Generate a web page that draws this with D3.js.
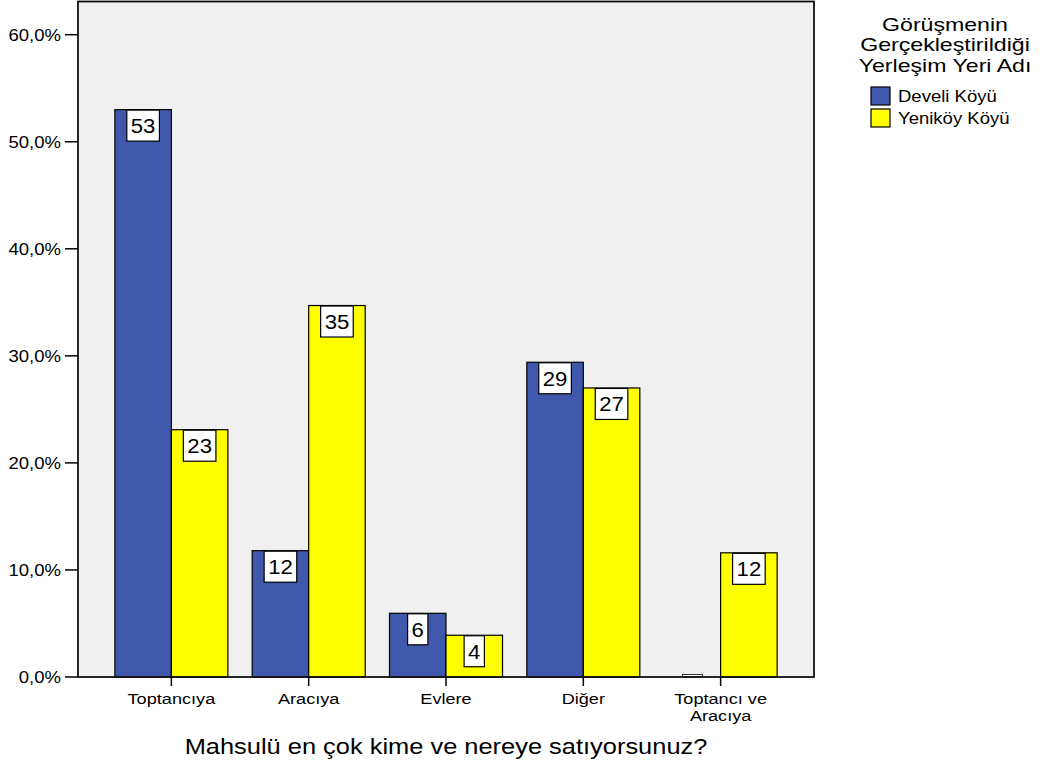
<!DOCTYPE html>
<html><head><meta charset="utf-8">
<script src="https://cdn.jsdelivr.net/npm/d3@7"></script>
<style>body{margin:0;background:#fff}svg{display:block}text{font-family:Arial,"Liberation Sans",sans-serif;fill:#000}</style>
</head><body><svg id="c" width="1042" height="767"></svg>
<script>
const categories = ["Toptancıya","Aracıya","Evlere","Diğer","Toptancı ve Aracıya"];
const categoryLines = [["Toptancıya"],["Aracıya"],["Evlere"],["Diğer"],["Toptancı ve","Aracıya"]];
const seriesNames = ["Develi Köyü","Yeniköy Köyü"];
const develiPct = [53.0, 11.8, 5.95, 29.4, 0];
const yenikoyPct = [23.1, 34.7, 3.9, 27.0, 11.6];
const develiCount = [53, 12, 6, 29, 0];
const yenikoyCount = [23, 35, 4, 27, 12];
const yTicks = [0,10,20,30,40,50,60];
const colors = ["#3F58AB","#FFFF00"];

const svg = d3.select("#c");
const L=78, R=814, T=1.5, B=677;
const x0 = d3.scaleBand().domain(categories).range([L,R]).paddingInner(0).paddingOuter(0.18);
const x1 = d3.scaleBand().domain(seriesNames).range([0,x0.bandwidth()]).paddingInner(0).paddingOuter(0.215);
const y = d3.scaleLinear().domain([0,63.1]).range([B,T]);

function txt(parent, x, yy, s, size, sx, anchor){
  return parent.append("text").attr("transform",`translate(${x},${yy}) scale(${sx},1)`)
    .attr("text-anchor",anchor||"middle").attr("font-size",size).text(s);
}

svg.append("rect").attr("x",L).attr("y",T).attr("width",R-L).attr("height",B-T).attr("fill","#F0F0F0");

const data = categories.map((c,i)=>[
  {c, s:seriesNames[0], v:develiPct[i], n:develiCount[i]},
  {c, s:seriesNames[1], v:yenikoyPct[i], n:yenikoyCount[i]}]).flat();

const g = svg.append("g");
g.selectAll("rect.bar").data(data).enter().append("rect").attr("class","bar")
 .attr("x",d=>x0(d.c)+x1(d.s)).attr("width",x1.bandwidth())
 .attr("y",d=>y(d.v)).attr("height",d=>y(0)-y(d.v))
 .attr("fill",d=>colors[seriesNames.indexOf(d.s)]).attr("stroke","#000").attr("stroke-width",1.2);

// labels
const lab = svg.append("g");
data.forEach(d=>{
  const cx = x0(d.c)+x1(d.s)+x1.bandwidth()/2;
  const t = String(d.n);
  if(d.n===0){
    lab.append("rect").attr("x",cx-10).attr("y",y(0)-2.5).attr("width",20).attr("height",2.5)
      .attr("fill","#fff").attr("stroke","#000").attr("stroke-width",0.8);
    return;
  }
  const w = t.length*12.3+8;
  const top = y(d.v)+0.5;
  lab.append("rect").attr("x",cx-w/2).attr("y",top).attr("width",w).attr("height",31)
    .attr("fill","#fff").attr("stroke","#000").attr("stroke-width",1.2);
  txt(lab, cx, top+23, t, 20.5, 1.08);
});

// frame
svg.append("rect").attr("x",L).attr("y",T).attr("width",R-L).attr("height",B-T).attr("fill","none").attr("stroke","#111").attr("stroke-width",1.8);

// y axis
const ya = svg.append("g");
yTicks.forEach(t=>{
  ya.append("line").attr("x1",65).attr("x2",L).attr("y1",y(t)).attr("y2",y(t)).attr("stroke","#000").attr("stroke-width",1.5);
  txt(ya, 61, y(t)+6, d3.format(".1f")(t).replace(".",",")+"%", 17, 1.09, "end");
});

// x axis
const xa = svg.append("g");
categories.forEach((c,i)=>{
  const cx = x0(c)+x0.bandwidth()/2;
  xa.append("line").attr("x1",cx).attr("x2",cx).attr("y1",B).attr("y2",B+9).attr("stroke","#000").attr("stroke-width",1.5);
  categoryLines[i].forEach((ln,j)=>{
    txt(xa, cx, 704+j*16.5, ln, 15.5, 1.17);
  });
});
txt(svg, (L+R)/2, 754, "Mahsulü en çok kime ve nereye satıyorsunuz?", 22.5, 1.13);

// legend
const lg = svg.append("g");
["Görüşmenin","Gerçekleştirildiği","Yerleşim Yeri Adı"].forEach((t,i)=>{
  txt(lg, 945, 31+i*20.3, t, 18.5, 1.25);
});
seriesNames.forEach((s,i)=>{
  lg.append("rect").attr("x",871).attr("y",87+i*22).attr("width",19).attr("height",18).attr("fill",colors[i]).attr("stroke","#000").attr("stroke-width",1.2);
  txt(lg, 898, 102+i*22, s, 17, 1.09, "start");
});
</script></body></html>
